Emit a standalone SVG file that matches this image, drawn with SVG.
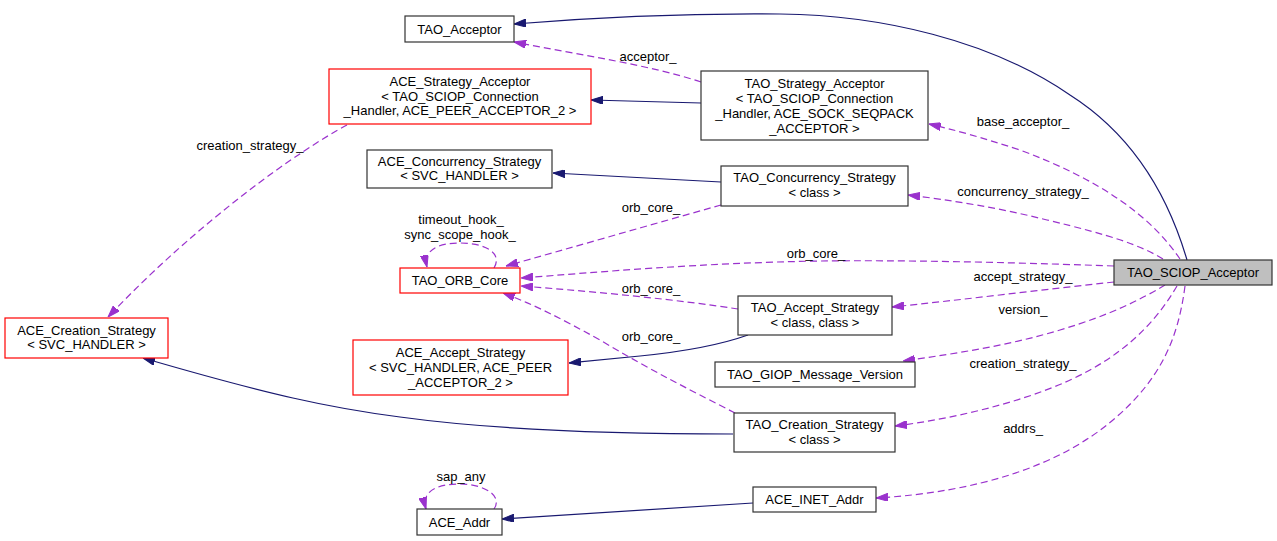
<svg xmlns="http://www.w3.org/2000/svg" width="1277" height="541" viewBox="0 0 1277 541">
<style>
  .box { fill: #ffffff; stroke: #333333; stroke-width: 1.2; }
  .red { fill: #ffffff; stroke: #ff0000; stroke-width: 1.2; }
  .main { fill: #bfbfbf; stroke: #333333; stroke-width: 1.2; }
  text { font-family: "Liberation Sans", Arial, sans-serif; font-size: 13px; fill: #000000; text-anchor: middle; }
  .inh { fill: none; stroke: #191970; stroke-width: 1.2; marker-end: url(#navy); }
  .use { fill: none; stroke: #9a32cd; stroke-width: 1.2; stroke-dasharray: 7,4; marker-end: url(#purple); }
</style>
<defs>
  <marker id="navy" viewBox="0 0 12 8" refX="12" refY="4" markerWidth="12" markerHeight="8" orient="auto" markerUnits="userSpaceOnUse">
    <path d="M0,0 L12,4 L0,8 z" fill="#191970" stroke="#191970" stroke-width="1"/>
  </marker>
  <marker id="purple" viewBox="0 0 12 8" refX="12" refY="4" markerWidth="12" markerHeight="8" orient="auto" markerUnits="userSpaceOnUse">
    <path d="M0,0 L12,4 L0,8 z" fill="#9a32cd" stroke="#9a32cd" stroke-width="1"/>
  </marker>
</defs>
<rect width="1277" height="541" fill="#ffffff"/>

<g id="connectors">
  <path class="inh" d="M1187,260 C1165,185 1125,130 1070,95 C990,40 880,15 780,14 C680,13 600,17 514,24"/>
  <path class="inh" d="M701,103 L591,100"/>
  <path class="inh" d="M721,182 L553,173"/>
  <path class="inh" d="M748,335 C720,345 680,352 640,356 C610,359 590,361 569,363"/>
  <path class="inh" d="M733,434 C600,434 480,428 400,417 C330,408 270,395 143,358"/>
  <path class="inh" d="M753,503 L502,519"/>

  <path class="use" d="M701,82 C650,65 580,55 514,42"/>
  <path class="use" d="M1180,259 C1150,215 1100,180 1020,150 C980,137 955,130 929,124"/>
  <path class="use" d="M1163,259 C1140,245 1110,235 1047,220 C1000,208 950,200 908,195"/>
  <path class="use" d="M1114,266 C1000,262 900,260 820,261 C700,263 600,272 521,278"/>
  <path class="use" d="M1114,282 C1040,290 960,300 892,307"/>
  <path class="use" d="M1165,285 C1140,300 1110,315 1060,330 C1010,345 960,353 903,361"/>
  <path class="use" d="M1177,286 C1160,315 1135,345 1090,370 C1040,398 960,418 895,426"/>
  <path class="use" d="M1185,286 C1178,340 1160,380 1113,420 C1060,465 980,492 876,498"/>
  <path class="use" d="M721,205 C650,225 570,248 506,266"/>
  <path class="use" d="M738,309 C680,300 600,292 521,286"/>
  <path class="use" d="M735,413 C700,395 650,370 600,340 C560,318 535,305 503,293"/>
  <path class="use" d="M347,125 C300,150 200,220 108,317"/>
  <path class="use" d="M494,268 C503,253 485,243 460,243 C438,243 423,250 427,267"/>
  <path class="use" d="M494,509 C503,496 485,484 459,484 C436,484 421,492 426,509"/>

  <text x="648" y="61">acceptor_</text>
  <text x="250" y="149.5">creation_strategy_</text>
  <text x="1023" y="126">base_acceptor_</text>
  <text x="1023" y="196">concurrency_strategy_</text>
  <text x="816" y="258">orb_core_</text>
  <text x="651" y="211.5">orb_core_</text>
  <text x="461" y="224">timeout_hook_</text>
  <text x="460" y="239">sync_scope_hook_</text>
  <text x="1023" y="281">accept_strategy_</text>
  <text x="651" y="292.5">orb_core_</text>
  <text x="1023" y="314">version_</text>
  <text x="651" y="340.5">orb_core_</text>
  <text x="1023" y="368">creation_strategy_</text>
  <text x="1023" y="433">addrs_</text>
  <text x="461" y="481">sap_any</text>
</g>

<g id="TAO_Acceptor">
  <rect class="box" x="405" y="16" width="109" height="26"/>
  <text x="459.5" y="33.5">TAO_Acceptor</text>
</g>
<g id="ACE_Strategy_Acceptor">
  <rect class="red" x="329" y="69" width="262" height="55"/>
  <text x="460" y="86">ACE_Strategy_Acceptor</text>
  <text x="460" y="100.5">&lt; TAO_SCIOP_Connection</text>
  <text x="460" y="115">_Handler, ACE_PEER_ACCEPTOR_2 &gt;</text>
</g>
<g id="TAO_Strategy_Acceptor">
  <rect class="box" x="701" y="71" width="227" height="69"/>
  <text x="814.5" y="87.5">TAO_Strategy_Acceptor</text>
  <text x="814.5" y="102.5">&lt; TAO_SCIOP_Connection</text>
  <text x="814.5" y="117.5">_Handler, ACE_SOCK_SEQPACK</text>
  <text x="814.5" y="132.5">_ACCEPTOR &gt;</text>
</g>
<g id="ACE_Concurrency_Strategy">
  <rect class="box" x="367" y="150" width="185" height="38"/>
  <text x="459.5" y="165.5">ACE_Concurrency_Strategy</text>
  <text x="459.5" y="179.5">&lt; SVC_HANDLER &gt;</text>
</g>
<g id="TAO_Concurrency_Strategy">
  <rect class="box" x="721" y="166" width="187" height="40"/>
  <text x="814.5" y="181.5">TAO_Concurrency_Strategy</text>
  <text x="814.5" y="196.5">&lt; class &gt;</text>
</g>
<g id="TAO_ORB_Core">
  <rect class="red" x="400" y="268" width="120" height="25"/>
  <text x="460" y="285">TAO_ORB_Core</text>
</g>
<g id="TAO_SCIOP_Acceptor">
  <rect class="main" x="1114" y="260" width="158" height="25"/>
  <text x="1193" y="277">TAO_SCIOP_Acceptor</text>
</g>
<g id="TAO_Accept_Strategy">
  <rect class="box" x="738" y="296" width="154" height="39"/>
  <text x="815" y="311.5">TAO_Accept_Strategy</text>
  <text x="815" y="326.5">&lt; class, class &gt;</text>
</g>
<g id="ACE_Accept_Strategy">
  <rect class="red" x="353" y="340" width="215" height="55"/>
  <text x="460.5" y="356.5">ACE_Accept_Strategy</text>
  <text x="460.5" y="371.5">&lt; SVC_HANDLER, ACE_PEER</text>
  <text x="460.5" y="386.5">_ACCEPTOR_2 &gt;</text>
</g>
<g id="TAO_GIOP_Message_Version">
  <rect class="box" x="715" y="362" width="200" height="25"/>
  <text x="815" y="378.5">TAO_GIOP_Message_Version</text>
</g>
<g id="ACE_Creation_Strategy">
  <rect class="red" x="5" y="318" width="163" height="40"/>
  <text x="86.5" y="334.5">ACE_Creation_Strategy</text>
  <text x="86.5" y="348.5">&lt; SVC_HANDLER &gt;</text>
</g>
<g id="TAO_Creation_Strategy">
  <rect class="box" x="734" y="413" width="161" height="39"/>
  <text x="814.5" y="428.5">TAO_Creation_Strategy</text>
  <text x="814.5" y="443.5">&lt; class &gt;</text>
</g>
<g id="ACE_INET_Addr">
  <rect class="box" x="753" y="487" width="123" height="25"/>
  <text x="814.5" y="504">ACE_INET_Addr</text>
</g>
<g id="ACE_Addr">
  <rect class="box" x="417" y="509" width="85" height="26"/>
  <text x="459.5" y="526.5">ACE_Addr</text>
</g>
</svg>
